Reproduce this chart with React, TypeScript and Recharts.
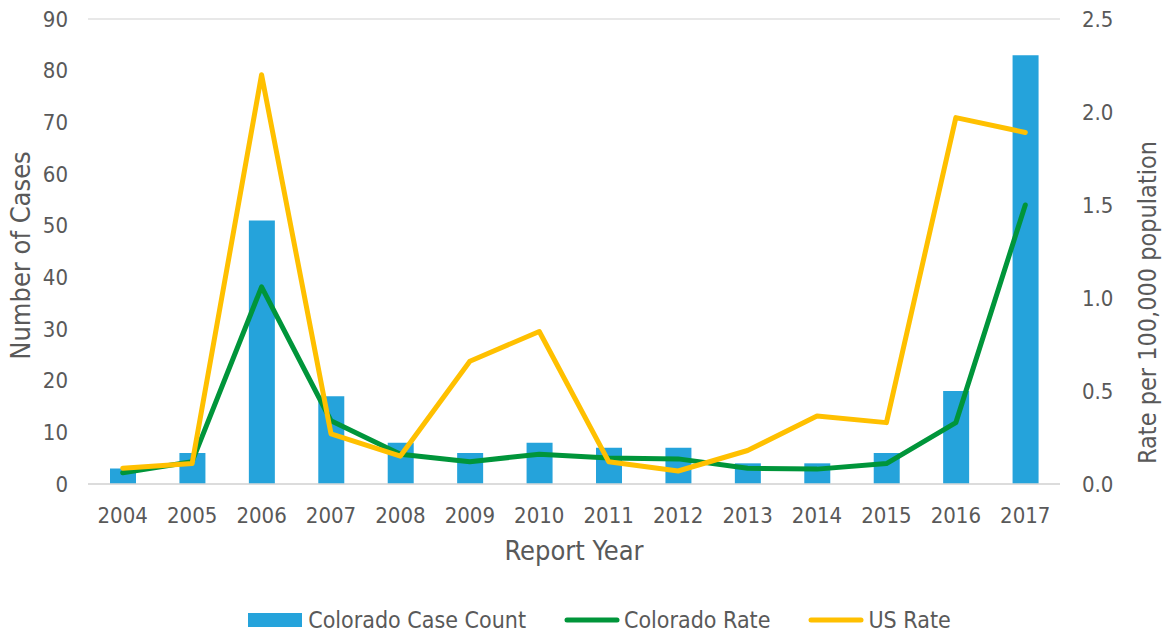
import React from 'react';
import {Bar, CartesianGrid, ComposedChart, Legend, Line, XAxis, YAxis} from 'recharts';

const years = ['2004', '2005', '2006', '2007', '2008', '2009', '2010', '2011', '2012', '2013', '2014', '2015', '2016', '2017'];
const caseCount = [3, 6, 51, 17, 8, 6, 8, 7, 7, 4, 4, 6, 18, 83];
const coloradoRate = [0.06, 0.12, 1.06, 0.34, 0.16, 0.12, 0.16, 0.14, 0.135, 0.085, 0.08, 0.11, 0.33, 1.5];
const usRate = [0.085, 0.11, 2.2, 0.27, 0.15, 0.66, 0.82, 0.12, 0.07, 0.18, 0.365, 0.33, 1.97, 1.89];
const leftTicks = [0, 10, 20, 30, 40, 50, 60, 70, 80, 90];
const rightTicks = [0, 0.5, 1, 1.5, 2, 2.5];

const data = years.map((year, i) => ({
    year,
    count: caseCount[i],
    coRate: coloradoRate[i],
    usRate: usRate[i],
}));

const FONT = '"DejaVu Sans Condensed", "DejaVu Sans", sans-serif';
const TEXT = '#595959';

const legendItems = [
    {label: 'Colorado Case Count', color: '#25A3DB', kind: 'bar'},
    {label: 'Colorado Rate', color: '#00953A', kind: 'line'},
    {label: 'US Rate', color: '#FFC000', kind: 'line'},
];

// legend drawn by hand to get the wide swatches
const renderLegend = () => (
    <div style={{display: 'flex', justifyContent: 'center', fontFamily: FONT, fontSize: 23, color: TEXT,
        lineHeight: '28px', paddingLeft: 36}}>
        {legendItems.map((item) => (
            <div key={item.label} style={{display: 'flex', alignItems: 'center', margin: '0 19px'}}>
                <svg width={56} height={20} style={{marginRight: 4}}>
                    {item.kind === 'bar'
                        ? <rect x={0} y={3} width={54} height={14} fill={item.color}/>
                        : <line x1={3} y1={10} x2={53} y2={10} stroke={item.color} strokeWidth={5} strokeLinecap="round"/>}
                </svg>
                <span>{item.label}</span>
            </div>
        ))}
    </div>
);

export default function App() {
    const tick = {fill: TEXT, fontSize: 22, fontFamily: FONT};
    return (
        <div style={{position: 'absolute', left: 0, top: 0, background: '#fff'}}>
            <ComposedChart width={1163} height={637} data={data}
                           margin={{top: 19, right: 0, bottom: 45, left: 0}}
                           barSize={26}>
                <CartesianGrid vertical={false} stroke="#e0e0e0" strokeWidth={1.5}/>
                <XAxis dataKey="year" tick={tick} tickLine={false} axisLine={{stroke: '#d9d9d9', strokeWidth: 1.5}}
                       tickMargin={17} height={80}
                       label={{value: 'Report Year', position: 'insideBottom', offset: 4, fill: TEXT, fontSize: 27, fontFamily: FONT}}/>
                <YAxis yAxisId="left" domain={[0, 90]} ticks={leftTicks} tick={tick} tickLine={false} axisLine={false}
                       width={88} tickMargin={14} interval={0}
                       label={{value: 'Number of Cases', angle: -90, position: 'insideLeft', offset: 20, dy: 4, fill: TEXT, fontSize: 27, fontFamily: FONT, style: {textAnchor: 'middle'}}}/>
                <YAxis yAxisId="right" orientation="right" domain={[0, 2.5]} ticks={rightTicks} tick={tick} tickLine={false}
                       axisLine={false} width={103} tickMargin={16} interval={0}
                       tickFormatter={(v: number) => v.toFixed(1)}
                       label={{value: 'Rate per 100,000 population', angle: -90, position: 'insideRight', offset: 16, dy: 51, fill: TEXT, fontSize: 25, fontFamily: FONT, style: {textAnchor: 'middle'}}}/>
                <Legend verticalAlign="bottom" content={renderLegend} wrapperStyle={{bottom: 3}}/>
                <Bar yAxisId="left" dataKey="count" fill="#25A3DB" isAnimationActive={false}/>
                <Line yAxisId="right" dataKey="coRate" stroke="#00953A" strokeWidth={5} dot={false}
                      strokeLinejoin="round" strokeLinecap="round" isAnimationActive={false}/>
                <Line yAxisId="right" dataKey="usRate" stroke="#FFC000" strokeWidth={5} dot={false}
                      strokeLinejoin="round" strokeLinecap="round" isAnimationActive={false}/>
            </ComposedChart>
        </div>
    );
}
